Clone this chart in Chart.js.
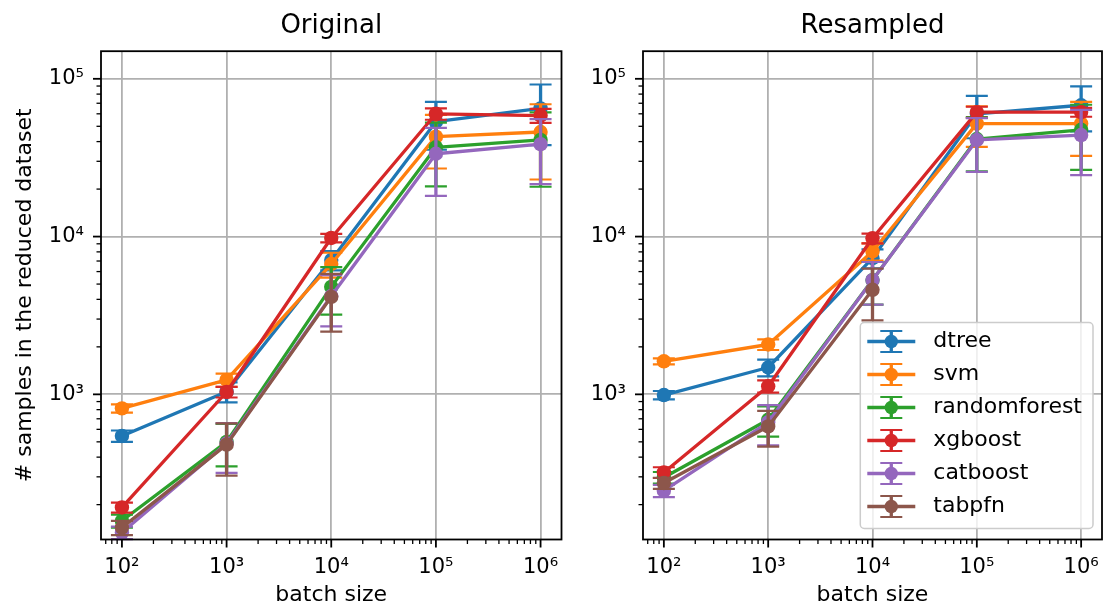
<!DOCTYPE html>
<html>
<head>
<meta charset="utf-8">
<script src="https://cdn.jsdelivr.net/npm/chart.js@4/dist/chart.umd.min.js"></script>
<style>
  body { margin: 0; background: #fff; width: 1104px; height: 606px; position: relative; overflow: hidden; }
  canvas { position: absolute; top: 0; }
  #original { left: 0; }
  #resampled { left: 572px; }
</style>
</head>
<body>
<canvas id="original" width="572" height="606"></canvas>
<canvas id="resampled" width="532" height="606"></canvas>
<script>
const batchSizes = [1e2, 1e3, 1e4, 1e5, 1e6];
const models = ['dtree', 'svm', 'randomforest', 'xgboost', 'catboost', 'tabpfn'];
const colors = ['#1f77b4', '#ff7f0e', '#2ca02c', '#d62728', '#9467bd', '#8c564b'];

// "Original" panel, one row per model (tabpfn only up to 1e4)
const originalMeans = [
  [545, 1040, 7100, 53500, 65000],
  [815, 1235, 6700, 43000, 46000],
  [158, 500, 4800, 36800, 41000],
  [192, 1035, 9800, 60000, 58500],
  [133, 488, 4200, 33500, 38500],
  [143, 480, 4150],
];
const originalErrs = [
  [45, 150, 1000, 18000, 27000],
  [50, 120, 1200, 16000, 23000],
  [15, 150, 1600, 16000, 20300],
  [14, 80, 600, 5000, 6000],
  [12, 170, 1500, 15400, 17000],
  [15, 175, 1650],
];

// "Resampled" panel
const resampledMeans = [
  [990, 1480, 7300, 60000, 68000],
  [1620, 2070, 8050, 52000, 52000],
  [297, 690, 5300, 41500, 47500],
  [320, 1125, 9750, 61500, 61500],
  [245, 665, 5300, 41000, 44000],
  [274, 626, 4600],
];
const resampledErrs = [
  [60, 180, 1000, 18000, 21600],
  [70, 160, 1000, 15000, 19500],
  [25, 150, 1600, 15600, 21000],
  [25, 100, 700, 5000, 4000],
  [22, 190, 1600, 15300, 19500],
  [22, 160, 1660],
];

Chart.defaults.font.family = '"DejaVu Sans", sans-serif';
Chart.defaults.color = '#000';

const sup = { '0': '⁰', '1': '¹', '2': '²', '3': '³', '4': '⁴', '5': '⁵', '6': '⁶' };

function logTicks(min, max) {
  const out = [];
  for (let e = 0; e <= 7; e++) {
    for (let m = 1; m <= 9; m++) {
      const v = m * Math.pow(10, e);
      if (v >= min && v <= max) out.push({ value: v, major: m === 1 });
    }
  }
  return out;
}

function tickLabel(value, index, ticks) {
  if (!ticks[index] || !ticks[index].major) return '';
  const e = Math.round(Math.log10(value));
  return '10' + String(e).split('').map(c => sup[c]).join('');
}

// grid only on decades; the library's own tick marks are hidden, they just push the labels out
function makeGrid(gap) {
  return {
    drawTicks: true,
    tickLength: gap,
    tickColor: 'rgba(0,0,0,0)',
    lineWidth: 1.8,
    color: c => (c.tick && c.tick.major ? '#b0b0b0' : 'rgba(0,0,0,0)'),
  };
}

function makeDatasets(means, errs) {
  return models.map((name, i) => ({
    label: name,
    data: means[i].map((v, j) => ({ x: batchSizes[j], y: v })),
    errors: errs[i],
    borderColor: colors[i],
    backgroundColor: colors[i],
    pointBackgroundColor: colors[i],
    borderWidth: 3.3,
    borderJoinStyle: 'round',
    pointRadius: 7.2,
    pointHoverRadius: 7.2,
    pointBorderWidth: 0,
    order: models.length - i,
  }));
}

// error bars under each series' line and markers
const errorBars = {
  id: 'errorBars',
  beforeDatasetDraw(chart, args) {
    const ds = chart.data.datasets[args.index];
    const ys = chart.scales.y;
    const ctx = chart.ctx;
    ctx.save();
    ctx.strokeStyle = ds.borderColor;
    args.meta.data.forEach((pt, i) => {
      const v = ds.data[i].y, e = ds.errors[i];
      const yTop = ys.getPixelForValue(v + e);
      const yBot = ys.getPixelForValue(v - e);
      ctx.lineWidth = 3.3;
      ctx.beginPath();
      ctx.moveTo(pt.x, yTop);
      ctx.lineTo(pt.x, yBot);
      ctx.stroke();
      ctx.lineWidth = 2.2;
      ctx.beginPath();
      ctx.moveTo(pt.x - 11, yTop); ctx.lineTo(pt.x + 11, yTop);
      ctx.moveTo(pt.x - 11, yBot); ctx.lineTo(pt.x + 11, yBot);
      ctx.stroke();
    });
    ctx.restore();
  },
};

// tick marks (major / minor) and the four spines
const axesFrame = {
  id: 'axesFrame',
  afterDraw(chart) {
    const { ctx, chartArea: a } = chart;
    ctx.save();
    ctx.strokeStyle = '#000';
    ['x', 'y'].forEach(id => {
      const s = chart.scales[id];
      s.ticks.forEach(t => {
        const len = t.major ? 8 : 4.5;
        ctx.lineWidth = t.major ? 1.8 : 1.3;
        const p = s.getPixelForValue(t.value);
        ctx.beginPath();
        if (id === 'x') { ctx.moveTo(p, a.bottom); ctx.lineTo(p, a.bottom + len); }
        else { ctx.moveTo(a.left, p); ctx.lineTo(a.left - len, p); }
        ctx.stroke();
      });
    });
    ctx.lineWidth = 1.8;
    ctx.strokeRect(a.left, a.top, a.right - a.left, a.bottom - a.top);
    ctx.restore();
  },
};

// matplotlib style errorbar legend, lower right
const errLegend = {
  id: 'errLegend',
  afterDraw(chart) {
    const { ctx, chartArea: a } = chart;
    const rowH = 33;
    ctx.save();
    ctx.font = '22px "DejaVu Sans"';
    const textW = Math.max(...models.map(m => ctx.measureText(m).width));
    const w = 7 + 48 + 18 + textW + 11;
    const h = 19 + (models.length - 1) * rowH + 22;
    const right = a.right - 9, bottom = a.bottom - 11;
    const left = right - w, top = bottom - h;
    ctx.beginPath();
    if (ctx.roundRect) ctx.roundRect(left, top, w, h, 4); else ctx.rect(left, top, w, h);
    ctx.fillStyle = 'rgba(255,255,255,0.8)';
    ctx.fill();
    ctx.strokeStyle = '#cccccc';
    ctx.lineWidth = 1.5;
    ctx.stroke();
    models.forEach((m, i) => {
      const y = top + 19 + i * rowH;
      const x0 = left + 7, xc = x0 + 24;
      ctx.strokeStyle = colors[i];
      ctx.lineWidth = 3.3;
      ctx.beginPath();
      ctx.moveTo(x0, y); ctx.lineTo(x0 + 48, y);
      ctx.moveTo(xc, y - 10.5); ctx.lineTo(xc, y + 10.5);
      ctx.stroke();
      ctx.lineWidth = 2.2;
      ctx.beginPath();
      ctx.moveTo(xc - 11, y - 10.5); ctx.lineTo(xc + 11, y - 10.5);
      ctx.moveTo(xc - 11, y + 10.5); ctx.lineTo(xc + 11, y + 10.5);
      ctx.stroke();
      ctx.fillStyle = colors[i];
      ctx.beginPath();
      ctx.arc(xc, y, 6.7, 0, Math.PI * 2);
      ctx.fill();
      ctx.fillStyle = '#000';
      ctx.textBaseline = 'middle';
      ctx.fillText(m, x0 + 48 + 18, y);
    });
    ctx.restore();
  },
};

const xMin = Math.pow(10, 1.8), xMax = Math.pow(10, 6.2);
const yMin = Math.pow(10, 2.08), yMax = Math.pow(10, 5.175);

function makeChart(canvasId, title, means, errs, yAxisWidth, padRight, yTitle, extraPlugins) {
  return new Chart(document.getElementById(canvasId), {
    type: 'line',
    data: { datasets: makeDatasets(means, errs) },
    options: {
      responsive: false,
      animation: false,
      events: [],
      layout: { autoPadding: false, padding: { left: 0, right: padRight, top: 0, bottom: 0 } },
      plugins: {
        legend: { display: false },
        tooltip: { enabled: false },
        title: {
          display: true,
          text: title,
          fullSize: false,
          font: { size: 26, weight: 'normal' },
          padding: { top: 11, bottom: 9 },
        },
      },
      scales: {
        x: {
          type: 'logarithmic',
          min: xMin,
          max: xMax,
          grid: makeGrid(15),
          border: { display: false },
          afterBuildTicks: s => { s.ticks = logTicks(xMin, xMax); },
          afterFit: s => { s.height = 66.5; },
          ticks: { callback: tickLabel, autoSkip: false, maxRotation: 0, padding: 0, font: { size: 21 } },
          title: { display: true, text: 'batch size', font: { size: 22 }, padding: { top: 0, bottom: -2 } },
        },
        y: {
          type: 'logarithmic',
          min: yMin,
          max: yMax,
          grid: makeGrid(17),
          border: { display: false },
          afterBuildTicks: s => { s.ticks = logTicks(yMin, yMax); },
          afterFit: s => { s.width = yAxisWidth; },
          ticks: { callback: tickLabel, autoSkip: false, padding: 0, font: { size: 21 } },
          title: { display: !!yTitle, text: yTitle || '', font: { size: 22 }, padding: { top: 12, bottom: 0 } },
        },
      },
    },
    plugins: [errorBars, axesFrame].concat(extraPlugins),
  });
}

makeChart('original', 'Original', originalMeans, originalErrs, 101, 10.5, '# samples in the reduced dataset', []);
makeChart('resampled', 'Resampled', resampledMeans, resampledErrs, 71, 2, null, [errLegend]);
</script>
</body>
</html>
